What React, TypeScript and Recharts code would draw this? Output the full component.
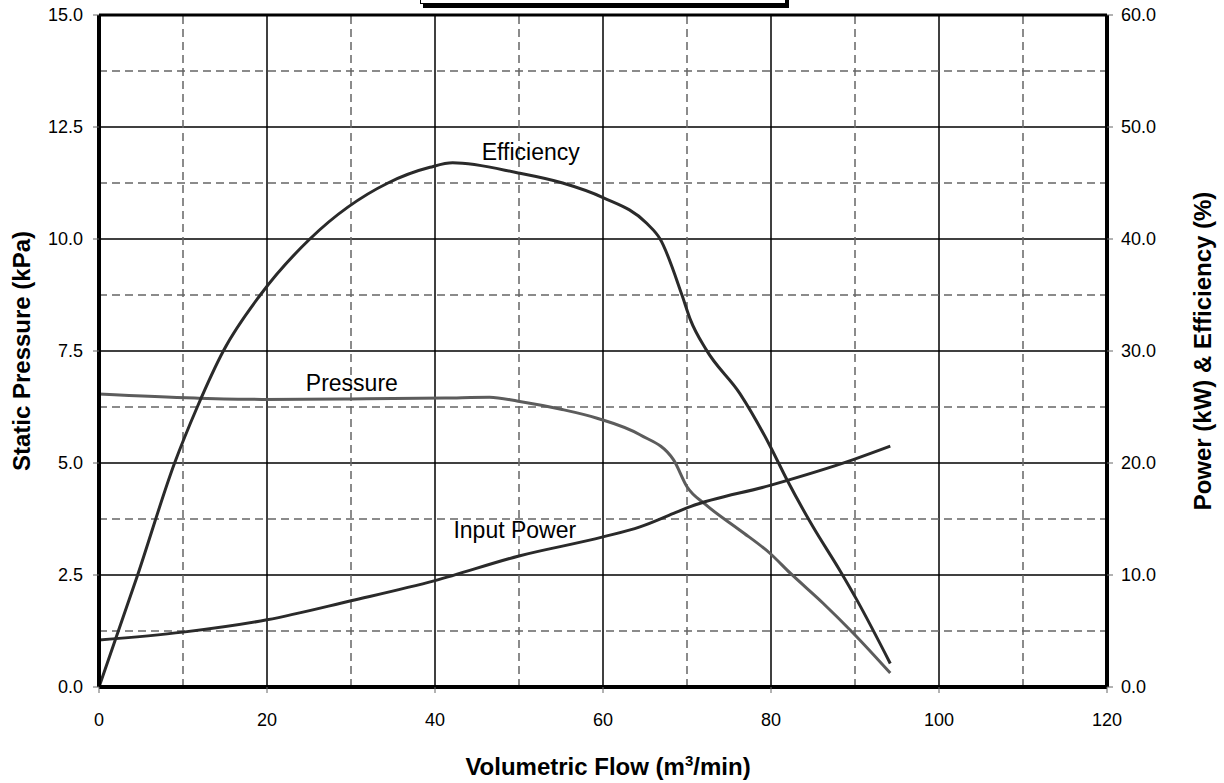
import React from 'react'
import {
  LineChart,
  Line,
  XAxis,
  YAxis,
  CartesianGrid,
  ReferenceLine,
  ReferenceDot,
} from 'recharts'

const flowTicks = [0, 20, 40, 60, 80, 100, 120]
const flowMinorTicks = [10, 30, 50, 70, 90, 110]
const pressureTicks = [0, 2.5, 5, 7.5, 10, 12.5, 15]
const pressureMinorTicks = [1.25, 3.75, 6.25, 8.75, 11.25, 13.75]
const powerTicks = [0, 10, 20, 30, 40, 50, 60]

// efficiency (%) vs flow, right axis
const effFlow = [0, 4.6, 9.0, 11.7, 14.8, 19.2, 25.1, 34.4, 39.4, 42.1, 49.9, 55.2, 60, 65.2, 66.8, 69.4, 70.4, 72.3, 76.3, 79.9, 81.9, 85.0, 88.2, 90.2, 94.2]
const effValues = [0, 10, 20, 25, 30, 35, 40, 45, 46.4, 46.8, 45.9, 45, 43.7, 41.4, 40, 35, 32.8, 30.1, 26.2, 21.5, 18.5, 14.3, 10.4, 7.8, 2.1]

// static pressure (kPa) vs flow, left axis
const pressureFlow = [0, 11.4, 19.4, 30, 41.2, 46.5, 49.9, 55, 59.3, 64.4, 68.4, 70, 72.3, 76.3, 79.9, 82.3, 86.2, 89.8, 94.2]
const pressureValues = [6.54, 6.45, 6.42, 6.43, 6.45, 6.47, 6.38, 6.2, 6.0, 5.63, 5.07, 4.47, 4.06, 3.5, 2.98, 2.54, 1.87, 1.2, 0.31]

// input power (kW) vs flow, right axis
const powerFlow = [0, 10, 20, 30, 40, 50, 60, 64.4, 68.4, 70.4, 79.9, 89.8, 94.2]
const powerValues = [4.2, 4.9, 6.0, 7.7, 9.5, 11.7, 13.4, 14.3, 15.5, 16.1, 18.0, 20.3, 21.5]

const effData = effFlow.map((flow, i) => ({ flow, value: effValues[i] }))
const pressureData = pressureFlow.map((flow, i) => ({ flow, value: pressureValues[i] }))
const powerData = powerFlow.map((flow, i) => ({ flow, value: powerValues[i] }))

const FONT = '"Liberation Sans", Arial, sans-serif'
const tickStyle = { fontSize: 18, fill: '#000', fontFamily: FONT }
const dashed = { stroke: '#666', strokeDasharray: '8 5', strokeWidth: 1.5 }
const seriesLabel = { fontSize: 23, fill: '#000', fontFamily: FONT }

export default function App() {
  return (
    <div
      style={{
        position: 'absolute',
        left: 0,
        top: 0,
        width: 1224,
        height: 783,
        overflow: 'hidden',
        background: '#fff',
        fontFamily: FONT,
      }}
    >
      <div
        style={{
          position: 'absolute',
          left: 420,
          top: -26,
          width: 366,
          height: 30,
          boxSizing: 'border-box',
          border: '1px solid #000',
          boxShadow: '3px 4px 0 #000',
          background: '#fff',
        }}
      />
      <LineChart
        width={1224}
        height={783}
        margin={{ top: 15, right: 27, bottom: 56, left: 19 }}
      >
        <CartesianGrid yAxisId="left" stroke="#000" strokeWidth={1.5} />
        {flowMinorTicks.map((v) => (
          <ReferenceLine key={'x' + v} x={v} yAxisId="left" {...dashed} />
        ))}
        {pressureMinorTicks.map((v) => (
          <ReferenceLine key={'y' + v} y={v} yAxisId="left" {...dashed} />
        ))}
        <ReferenceLine y={15} yAxisId="left" stroke="#000" strokeWidth={3} />
        <XAxis
          type="number"
          dataKey="flow"
          domain={[0, 120]}
          ticks={flowTicks}
          allowDataOverflow
          height={40}
          tickSize={6}
          tickMargin={20}
          tick={tickStyle}
          tickLine={{ stroke: '#666' }}
          axisLine={{ stroke: '#000', strokeWidth: 4 }}
        />
        <YAxis
          yAxisId="left"
          domain={[0, 15]}
          ticks={pressureTicks}
          width={80}
          tickSize={6}
          tickMargin={10}
          tick={tickStyle}
          tickLine={{ stroke: '#666' }}
          axisLine={{ stroke: '#000', strokeWidth: 4 }}
          tickFormatter={(v: number) => v.toFixed(1)}
        />
        <YAxis
          yAxisId="right"
          orientation="right"
          domain={[0, 60]}
          ticks={powerTicks}
          width={90}
          tickSize={6}
          tickMargin={8}
          tick={tickStyle}
          tickLine={{ stroke: '#666' }}
          axisLine={{ stroke: '#000', strokeWidth: 4 }}
          tickFormatter={(v: number) => v.toFixed(1)}
        />
        <Line
          yAxisId="left"
          data={pressureData}
          dataKey="value"
          type="monotone"
          stroke="#5c5c5c"
          strokeWidth={3}
          dot={false}
          isAnimationActive={false}
        />
        <Line
          yAxisId="right"
          data={powerData}
          dataKey="value"
          type="monotone"
          stroke="#2a2a2a"
          strokeWidth={3}
          dot={false}
          isAnimationActive={false}
        />
        <Line
          yAxisId="right"
          data={effData}
          dataKey="value"
          type="monotone"
          stroke="#2a2a2a"
          strokeWidth={3}
          dot={false}
          isAnimationActive={false}
        />
        <ReferenceDot
          yAxisId="left"
          x={51.4}
          y={11.94}
          r={0}
          fill="none"
          stroke="none"
          label={{ value: 'Efficiency', position: 'center', ...seriesLabel }}
        />
        <ReferenceDot
          yAxisId="left"
          x={30.1}
          y={6.8}
          r={0}
          fill="none"
          stroke="none"
          label={{ value: 'Pressure', position: 'center', ...seriesLabel }}
        />
        <ReferenceDot
          yAxisId="left"
          x={49.5}
          y={3.5}
          r={0}
          fill="none"
          stroke="none"
          label={{ value: 'Input Power', position: 'center', ...seriesLabel }}
        />
      </LineChart>
      <div
        style={{
          position: 'absolute',
          left: 22,
          top: 351,
          transform: 'translate(-50%, -50%) rotate(-90deg)',
          whiteSpace: 'nowrap',
          fontWeight: 'bold',
          fontSize: 24,
        }}
      >
        Static Pressure (kPa)
      </div>
      <div
        style={{
          position: 'absolute',
          left: 1203,
          top: 351,
          transform: 'translate(-50%, -50%) rotate(-90deg)',
          whiteSpace: 'nowrap',
          fontWeight: 'bold',
          fontSize: 24,
        }}
      >
        Power (kW) &amp; Efficiency (%)
      </div>
      <div
        style={{
          position: 'absolute',
          left: 99,
          width: 1018,
          top: 752,
          textAlign: 'center',
          whiteSpace: 'nowrap',
          fontWeight: 'bold',
          fontSize: 24,
        }}
      >
        Volumetric Flow (m<sup style={{ fontSize: 15 }}>3</sup>/min)
      </div>
    </div>
  )
}
